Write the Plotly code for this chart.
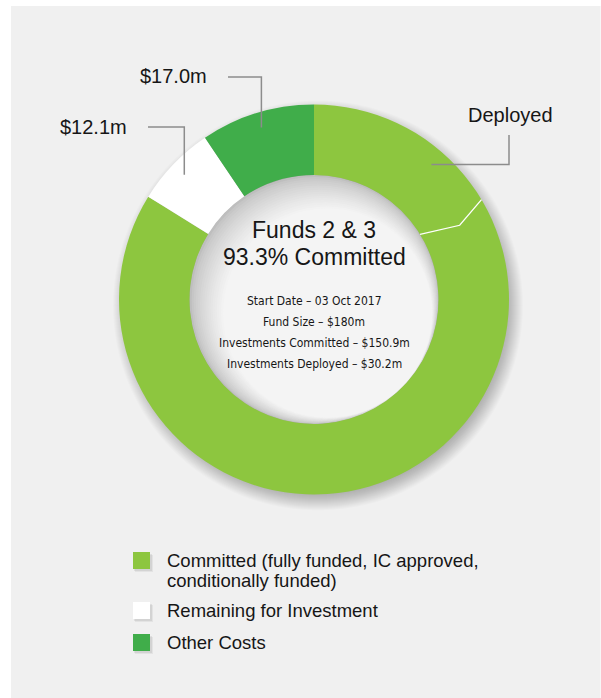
import math
import plotly.graph_objects as go

# ---- data -----------------------------------------------------------------
labels = ["Committed (fully funded, IC approved, conditionally funded)",
          "Remaining for Investment",
          "Other Costs"]
legend_lines = [["Committed (fully funded, IC approved,", "conditionally funded)"],
                ["Remaining for Investment"],
                ["Other Costs"]]
values = [150.9, 12.1, 17.0]          # $m, fund size 180
deployed = 30.2                        # $m, part of committed
callout_text = ["Deployed", "$12.1m", "$17.0m"]
title_lines = ["Funds 2 & 3", "93.3% Committed"]
detail_lines = ["Start Date – 03 Oct 2017",
                "Fund Size – $180m",
                "Investments Committed – $150.9m",
                "Investments Deployed – $30.2m"]

# ---- styling --------------------------------------------------------------
W, H = 601, 698
colors = ["#8dc63f", "#ffffff", "#40ad4a"]
bg = "#f0f0f0"
leader = "#8c8c8c"
txt = "#161616"
font = "Liberation Sans, Arial, Helvetica, sans-serif"
narrow = "Liberation Sans Narrow, DejaVu Sans Condensed, Liberation Sans"

cx, cy = 314, 299.5
r_out, r_in = 195, 124.5
total = sum(values)


def polar(angle_deg, r):
    a = math.radians(angle_deg)
    return cx + r * math.sin(a), cy - r * math.cos(a)


fig = go.Figure()

fig.add_trace(go.Pie(
    labels=labels, values=values, sort=False, direction="clockwise",
    rotation=0, hole=r_in / r_out,
    marker=dict(colors=colors, line=dict(width=0)),
    textinfo="none", hoverinfo="label+value", showlegend=False,
    domain=dict(x=[(cx - r_out) / W, (cx + r_out) / W],
                y=[(H - cy - r_out) / H, (H - cy + r_out) / H]),
))

shapes = []
# panel
shapes.append(dict(type="rect", xref="x", yref="y", x0=11, x1=600.5, y0=6, y1=H + 2,
                   fillcolor=bg, line=dict(width=0), layer="below"))

# soft drop shadow behind the ring
ox, oy = 4, 6
for k in range(20):
    rr = r_out + 10 - k
    shapes.append(dict(type="circle", xref="x", yref="y",
                       x0=cx + ox - rr, x1=cx + ox + rr, y0=cy + oy - rr, y1=cy + oy + rr,
                       fillcolor="rgba(0,0,0,0.017)", line=dict(width=0), layer="below"))

# hole with inner shadow towards the upper left
steps = 16
g0, g1 = (190, 190, 190), (244, 244, 244)
for k in range(steps + 1):
    t = k / steps
    col = tuple(round(g0[i] + (g1[i] - g0[i]) * (t ** 0.7)) for i in range(3))
    rr = r_in - 1.25 * k
    off = 0.85 * k
    shapes.append(dict(type="circle", xref="x", yref="y",
                       x0=cx + off - rr, x1=cx + off + rr, y0=cy + off - rr, y1=cy + off + rr,
                       fillcolor="rgb(%d,%d,%d)" % col, line=dict(width=0), layer="below"))

# boundary of the deployed share inside the committed slice
a_dep = deployed / total * 360
p1 = polar(a_dep - 2.0, r_in)
p2 = polar(a_dep + 2.6, r_in + 39)
p3 = polar(a_dep - 1.2, r_out)
shapes.append(dict(type="path", xref="x", yref="y",
                   path="M %.2f %.2f L %.2f %.2f L %.2f %.2f" % (*p1, *p2, *p3),
                   line=dict(color="white", width=1.3), layer="above"))

# callout leaders
cum = [0]
for v in values:
    cum.append(cum[-1] + v)
mid = [(cum[i] + cum[i + 1]) / 2 / total * 360 for i in range(len(values))]

# $17.0m  (Other Costs) and $12.1m (Remaining)
for idx, ylev, xtext in [(2, 77, 209), (1, 127, 129)]:
    ex, ey = polar(mid[idx], 180)
    shapes.append(dict(type="path", xref="x", yref="y",
                       path="M %.1f %.1f L %.1f %.1f L %.1f %.1f" % (xtext + 19, ylev, ex, ylev, ex, ey),
                       line=dict(color=leader, width=1.5), layer="above"))
# Deployed
dx, dy = polar(41, 179)
shapes.append(dict(type="path", xref="x", yref="y",
                   path="M %.1f %.1f L %.1f %.1f L %.1f %.1f" % (509, 135, 509, dy, dx, dy),
                   line=dict(color=leader, width=1.5), layer="above"))

annotations = []


def note(x, y, text, size, fam=font, xanchor="center", color=txt):
    annotations.append(dict(x=x, y=y, xref="x", yref="y", text=text, showarrow=False,
                            xanchor=xanchor, yanchor="middle",
                            font=dict(family=fam, size=size, color=color)))


note(510, 115, callout_text[0], 20)
note(129, 127, callout_text[1], 20, xanchor="right")
note(209, 76, callout_text[2], 20, xanchor="right")

note(cx, 230, title_lines[0], 23)
note(cx, 256.5, title_lines[1], 23)
for i, line in enumerate(detail_lines):
    note(cx, 301 + 21 * i, line, 12, fam=narrow)

# legend
leg_y = [560.5, 610.5, 642.5]
for i, yc in enumerate(leg_y):
    for s, a in [(3, 0.05), (2, 0.07)]:
        shapes.append(dict(type="rect", xref="x", yref="y",
                           x0=133 + s - 1, x1=150 + s, y0=yc - 8.5 + s, y1=yc + 8.5 + s,
                           fillcolor="rgba(0,0,0,%.2f)" % a, line=dict(width=0), layer="above"))
    shapes.append(dict(type="rect", xref="x", yref="y", x0=133, x1=150,
                       y0=yc - 8.5, y1=yc + 8.5, fillcolor=colors[i],
                       line=dict(width=0), layer="above"))
    for j, line in enumerate(legend_lines[i]):
        note(165, yc + 20 * j, line, 18.5, xanchor="left")

fig.update_layout(
    width=W, height=H, margin=dict(l=0, r=0, t=0, b=0),
    paper_bgcolor="white", plot_bgcolor="white",
    xaxis=dict(range=[0, W], visible=False, fixedrange=True, domain=[0, 1]),
    yaxis=dict(range=[H, 0], visible=False, fixedrange=True, domain=[0, 1]),
    shapes=shapes, annotations=annotations, showlegend=False,
)

fig.write_html("out.html")
